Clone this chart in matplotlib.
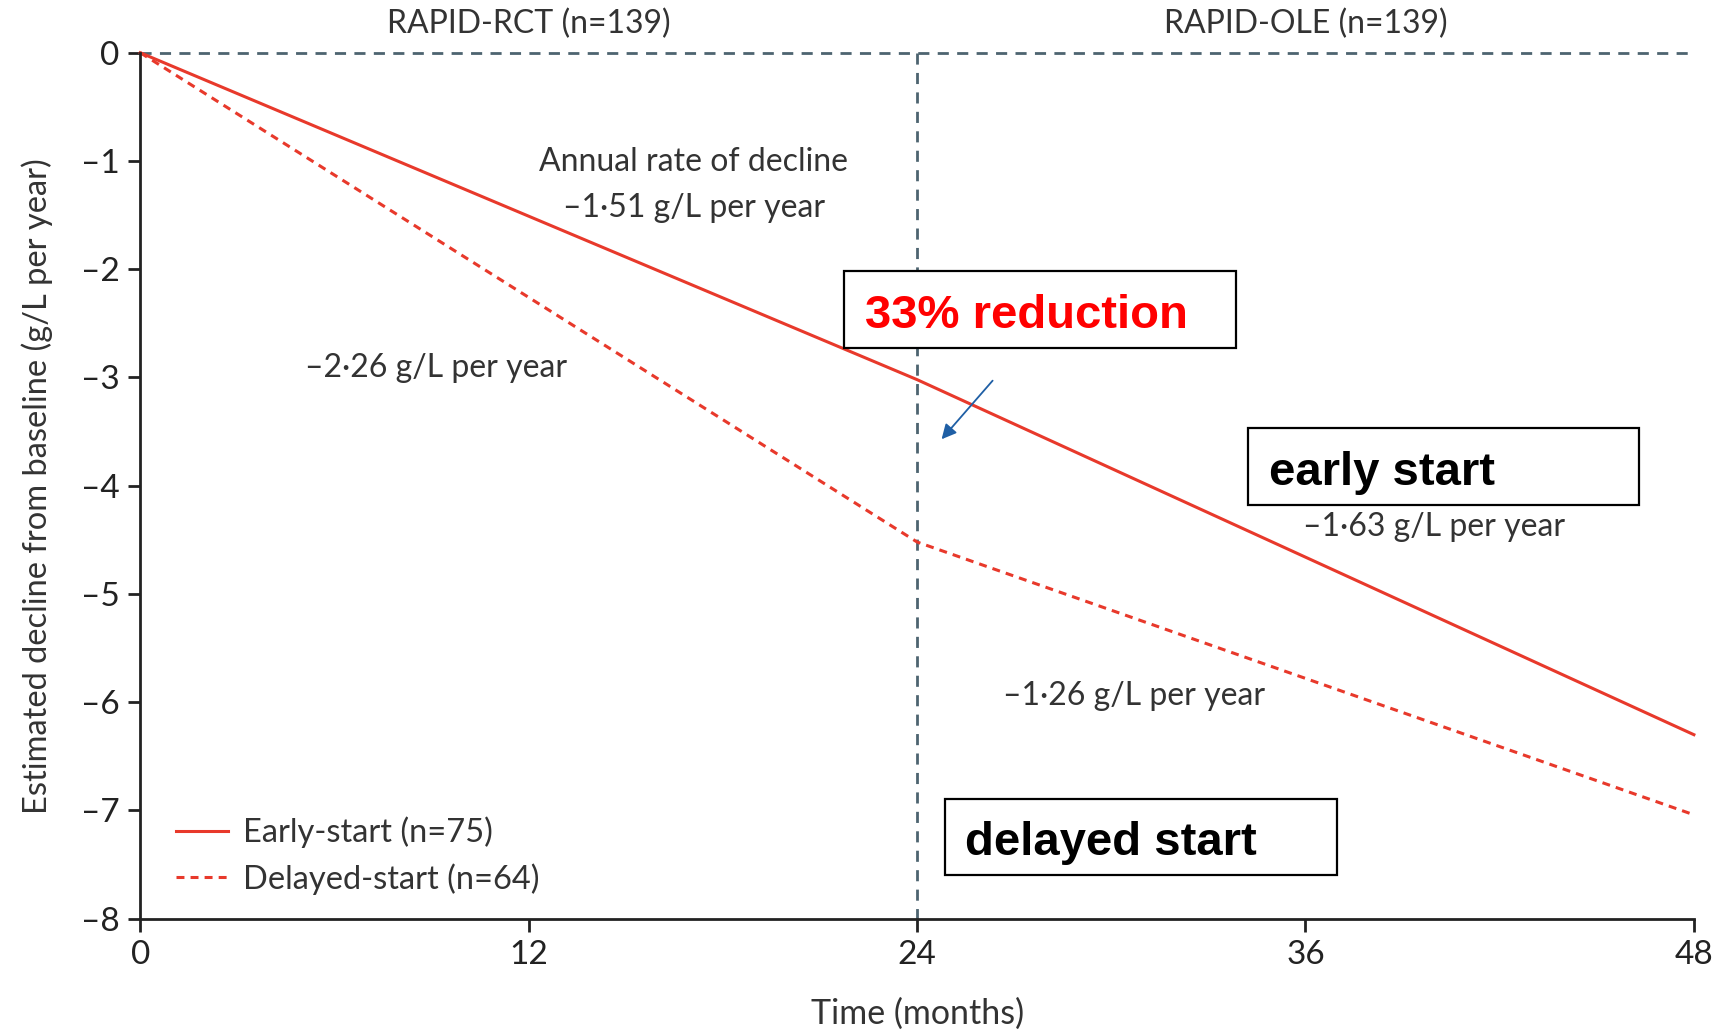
import numpy as np
import matplotlib
matplotlib.use("Agg")
import matplotlib.pyplot as plt
from matplotlib.patches import Rectangle

# Time points (months) and estimated decline from baseline (g/L)
months = [0, 24, 48]
early_start = [0, -3.02, -6.30]
delayed_start = [0, -4.52, -7.04]

x_ticks = [0, 12, 24, 36, 48]
y_ticks = [0, -1, -2, -3, -4, -5, -6, -7, -8]

phase_labels = ["RAPID-RCT (n=139)", "RAPID-OLE (n=139)"]
phase_centres = [12, 36]

red = "#e8392b"
grey_blue = "#4d6470"
txt = "#333333"

plt.rcParams['font.family'] = ['Lato', 'DejaVu Sans']

fig = plt.figure(figsize=(17.19, 10.34), dpi=100)
ax = fig.add_axes([0.0816, 0.1115, 0.9038, 0.8375])

# reference lines
ax.plot([0, 48], [0, 0], color=grey_blue, lw=2, dashes=(4, 3), clip_on=False)
ax.plot([24, 24], [0, -8], color=grey_blue, lw=2, dashes=(4, 3), clip_on=False)

# decline lines
ax.plot(months, early_start, color=red, lw=2.2, label="Early-start (n=75)", clip_on=False)
ax.plot(months, delayed_start, color=red, lw=2.2, dashes=(2.6, 2),
        label="Delayed-start (n=64)", clip_on=False)

ax.set_xlim(0, 48)
ax.set_ylim(-8, 0)
ax.set_xticks(x_ticks)
ax.set_yticks(y_ticks)
ax.set_yticklabels(["0"] + ["\u2013%d" % abs(v) for v in y_ticks[1:]])
ax.tick_params(axis='both', direction='out', length=9, width=2, labelsize=24,
               colors='#222222', pad=6)
for s in ['top', 'right']:
    ax.spines[s].set_visible(False)
for s in ['left', 'bottom']:
    ax.spines[s].set_linewidth(2)
    ax.spines[s].set_color('#222222')

ax.set_xlabel("Time (months)", fontsize=24.5, color=txt, labelpad=20)
ax.set_ylabel("Estimated decline from baseline (g/L per year)", fontsize=23.5,
              color=txt, labelpad=20)

# phase labels above plot
for lab, xc in zip(phase_labels, phase_centres):
    ax.text(xc, 0.27, lab, ha='center', va='center', fontsize=23, color=txt,
            clip_on=False)

# rate annotations
ax.text(17.1, -1.01, "Annual rate of decline", ha='center', va='center', fontsize=23, color=txt)
ax.text(17.1, -1.43, "\u20131\u00b751 g/L per year", ha='center', va='center', fontsize=23, color=txt)
ax.text(9.15, -2.91, "\u20132\u00b726 g/L per year", ha='center', va='center', fontsize=23, color=txt)
ax.text(39.97, -4.38, "\u20131\u00b763 g/L per year", ha='center', va='center', fontsize=23, color=txt)
ax.text(30.7, -5.94, "\u20131\u00b726 g/L per year", ha='center', va='center', fontsize=23, color=txt)

# boxed callouts
boxes = [
    (21.75, -2.73, "33% reduction", 'red', 22.39),
    (34.21, -4.18, "early start", 'black', 34.86),
    (24.86, -7.60, "delayed start", 'black', 25.47),
]
for x0, y0, label, col, tx in boxes:
    ax.add_patch(Rectangle((x0, y0), 12.1, 0.71, facecolor='white',
                           edgecolor='black', lw=1.6, zorder=3))
    ax.text(tx, y0 + 0.30, label, ha='left', va='center', fontsize=34,
            fontweight='bold', color=col, family='Liberation Sans', zorder=4)

# arrow
ax.annotate("", xy=(24.70, -3.59), xytext=(26.39, -3.01),
            arrowprops=dict(arrowstyle='-|>', color='#1f5fa5', lw=1.3,
                            mutation_scale=22))

leg = ax.legend(loc='lower left', bbox_to_anchor=(0.004, -0.006), frameon=False,
                fontsize=23.5, handlelength=1.6, handletextpad=0.45,
                labelspacing=0.45, labelcolor=txt)

fig.savefig("out.png", dpi=100, facecolor='white')
